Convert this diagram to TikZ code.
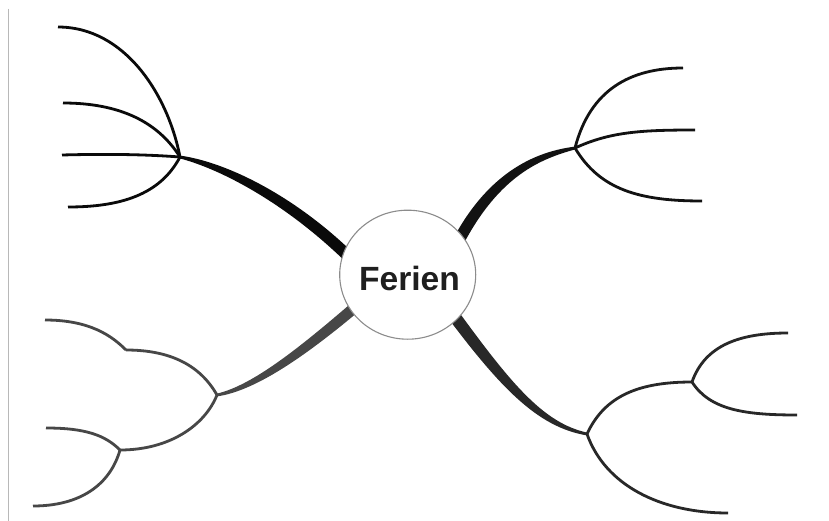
\documentclass[tikz,border=0pt]{standalone}
\usepackage{fontspec}
\setmainfont{Liberation Sans}
\usetikzlibrary{calc,shapes.geometric}

\definecolor{inkA}{HTML}{0A0A0A}
\definecolor{inkB}{HTML}{121212}
\definecolor{inkC}{HTML}{282828}
\definecolor{inkD}{HTML}{474747}

% Tapered main branch: #1 colour, #2 hub, #3 control 1, #4 control 2, #5 end,
% #6/#7/#8 half widths at control 1, control 2 and the end.
\newcommand\taperbranch[8]{%
  \fill[#1] ($(#2)!1.4pt!90:(#3)$)
     .. controls ($(#3)!#6!90:(#4)$) and ($(#4)!#7!90:(#5)$) .. ($(#5)!#8!-90:(#4)$)
     -- ($(#5)!#8!90:(#4)$)
     .. controls ($(#4)!#7!-90:(#5)$) and ($(#3)!#6!-90:(#4)$) .. ($(#2)!1.4pt!-90:(#3)$)
     -- cycle;%
}

\begin{document}
\begin{tikzpicture}[x=1pt,y=-1pt,
  twig/.style={line width=2.8pt}]
\useasboundingbox (0,0) rectangle (829,521);
\fill[white] (0,0) rectangle (829,521);

% margin rule on the left
\draw[black!28, line width=1pt] (8,9) -- (8,521);

% hubs
\coordinate (hTL) at (180,157);
\coordinate (hTR) at (575,148);
\coordinate (hBR) at (587,434);
\coordinate (hBR2) at (692,382);
\coordinate (hBL) at (217,395);
\coordinate (hBL1) at (126,350);
\coordinate (hBL2) at (120,450);

% main branch controls and ends (ends lie under the centre node)
\coordinate (cTL1) at (225,166);
\coordinate (cTL2) at (290,200);
\coordinate (eTL) at (348,256);
\coordinate (cTR1) at (540,155);
\coordinate (cTR2) at (495,172);
\coordinate (eTR) at (458,242);
\coordinate (cBR1) at (540,425);
\coordinate (cBR2) at (505,385);
\coordinate (eBR) at (449,309);
\coordinate (cBL1) at (255,388);
\coordinate (cBL2) at (305,350);
\coordinate (eBL) at (360,303);

% leaves
\coordinate (lTL1) at (58,27);
\coordinate (lTL2) at (63,103);
\coordinate (lTL3) at (62,155);
\coordinate (lTL4) at (68,207);
\coordinate (lTR1) at (683,68);
\coordinate (lTR2) at (695,130);
\coordinate (lTR3) at (702,201);
\coordinate (lBR1) at (788,333);
\coordinate (lBR2) at (797,415);
\coordinate (lBR3) at (728,513);
\coordinate (lBL1) at (45,320);
\coordinate (lBL2) at (46,428);
\coordinate (lBL3) at (33,506);

% main branches
\taperbranch{inkA}{hTL}{cTL1}{cTL2}{eTL}{4.3pt}{5.8pt}{5.8pt}
\taperbranch{inkB}{hTR}{cTR1}{cTR2}{eTR}{4pt}{5.6pt}{5.8pt}
\taperbranch{inkC}{hBR}{cBR1}{cBR2}{eBR}{3.2pt}{5.6pt}{6.2pt}
\taperbranch{inkD}{hBL}{cBL1}{cBL2}{eBL}{3.2pt}{5.2pt}{5.6pt}

% top left twigs
\draw[twig, inkA] (hTL) .. controls (168,95) and (125,27) .. (lTL1);
\draw[twig, inkA] (hTL) .. controls (158,122) and (120,103) .. (lTL2);
\draw[twig, inkA] (hTL) .. controls (140,154) and (100,154) .. (lTL3);
\draw[twig, inkA] (hTL) .. controls (160,195) and (120,207) .. (lTL4);

% top right twigs
\draw[twig, inkB] (hTR) .. controls (590,90) and (630,68) .. (lTR1);
\draw[twig, inkB] (hTR) .. controls (610,132) and (640,130) .. (lTR2);
\draw[twig, inkB] (hTR) .. controls (600,190) and (640,201) .. (lTR3);

% bottom right twigs
\draw[twig, inkC] (hBR) .. controls (605,395) and (640,382) .. (hBR2);
\draw[twig, inkC] (hBR2) .. controls (705,345) and (740,333) .. (lBR1);
\draw[twig, inkC] (hBR2) .. controls (710,410) and (745,415) .. (lBR2);
\draw[twig, inkC] (hBR) .. controls (605,485) and (660,513) .. (lBR3);

% bottom left twigs
\draw[twig, inkD] (hBL) .. controls (200,365) and (170,350) .. (hBL1);
\draw[twig, inkD] (hBL1) .. controls (112,336) and (90,320) .. (lBL1);
\draw[twig, inkD] (hBL) .. controls (205,425) and (170,450) .. (hBL2);
\draw[twig, inkD] (hBL2) .. controls (105,435) and (85,428) .. (lBL2);
\draw[twig, inkD] (hBL2) .. controls (110,485) and (80,506) .. (lBL3);

% centre
\node[ellipse, draw=black!45, line width=1.1pt, fill=white,
      minimum width=136pt, minimum height=129pt, inner sep=0pt]
  (core) at (407.7,274.7) {};
\node[font=\bfseries\fontsize{33.6}{40}\selectfont, text=black!88, inner sep=0pt]
  (title) at ($(core)+(1.8,3.3)$) {Ferien};
\end{tikzpicture}
\end{document}
